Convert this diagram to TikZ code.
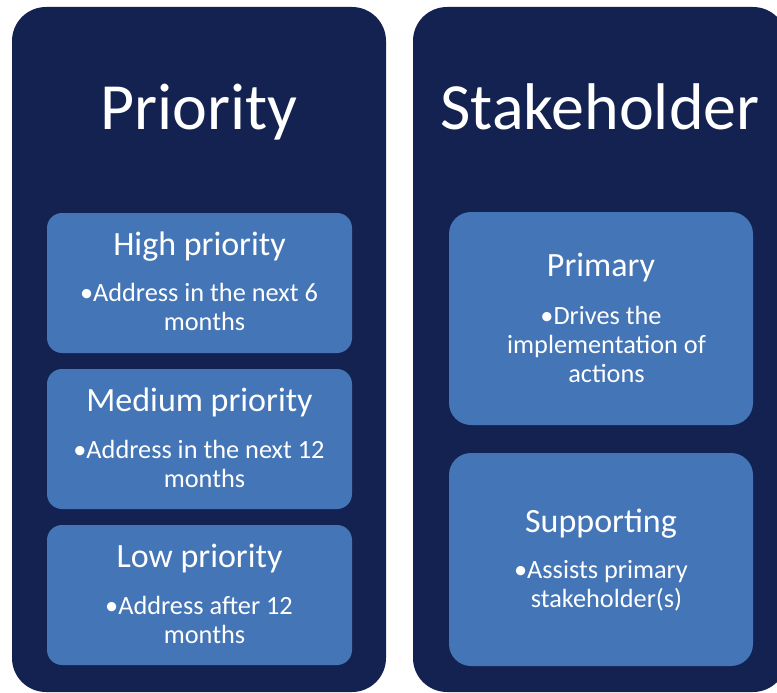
\documentclass[tikz,border=0pt]{standalone}
\usepackage{fontspec}
\setmainfont{Carlito}
\definecolor{navy}{RGB}{19,34,80}
\definecolor{tileblue}{RGB}{68,117,182}
\newcommand{\hangline}{\hspace*{11pt}}
\begin{document}
\begin{tikzpicture}[x=1pt,y=-1pt,
  panel/.style={fill=navy, draw=none, rounded corners=34pt, inner sep=0pt},
  smalltile/.style={fill=tileblue, draw=none, rounded corners=15pt, inner sep=0pt,
    minimum width=305pt, minimum height=140pt},
  bigtile/.style={fill=tileblue, draw=none, rounded corners=22pt, inner sep=0pt,
    minimum width=304pt, minimum height=213pt},
  titletext/.style={text=white, inner sep=0pt, anchor=base, font=\fontsize{66}{79}\selectfont},
  headtext/.style={text=white, inner sep=0pt, anchor=base, font=\fontsize{34}{40}\selectfont},
  bullettext/.style={text=white, inner sep=0pt, anchor=base, align=center, font=\fontsize{26.3}{29}\selectfont}]
\clip (0,0) rectangle (777,693);
\fill[white] (0,0) rectangle (777,693);
% panels
\node[panel, minimum width=374pt, minimum height=685pt] (lpanel) at (199,349.5) {};
\node[panel, minimum width=374pt, minimum height=685pt] (rpanel) at (600,349.5) {};
% titles
\node[titletext] (ltitle) at (199,129) {Priority};
\node[titletext] (rtitle) at (600,129) {Stakeholder};
% left tiles
\node[smalltile] (high) at (199.5,283) {};
\node[smalltile] (medium) at (199.5,439) {};
\node[smalltile] (low) at (199.5,595) {};
\node[headtext] (highh) at (199.5,255) {High priority};
\node[bullettext] (highb) at (199,330) {•Address in the next 6\\\hangline months};
\node[headtext] (medh) at (199.5,411) {Medium priority};
\node[bullettext] (medb) at (199,487) {•Address in the next 12\\\hangline months};
\node[headtext] (lowh) at (199.5,567) {Low priority};
\node[bullettext] (lowb) at (199,643) {•Address after 12\\\hangline months};
% right tiles
\node[bigtile] (primary) at (601,318.5) {};
\node[bigtile] (supporting) at (601,559.5) {};
\node[headtext] (primh) at (601,276) {Primary};
\node[bullettext] (primb) at (601,382) {•Drives the\\\hangline implementation of\\\hangline actions};
\node[headtext] (supph) at (601,532) {Supporting};
\node[bullettext] (suppb) at (601,607) {•Assists primary\\\hangline stakeholder(s)};
\end{tikzpicture}
\end{document}
